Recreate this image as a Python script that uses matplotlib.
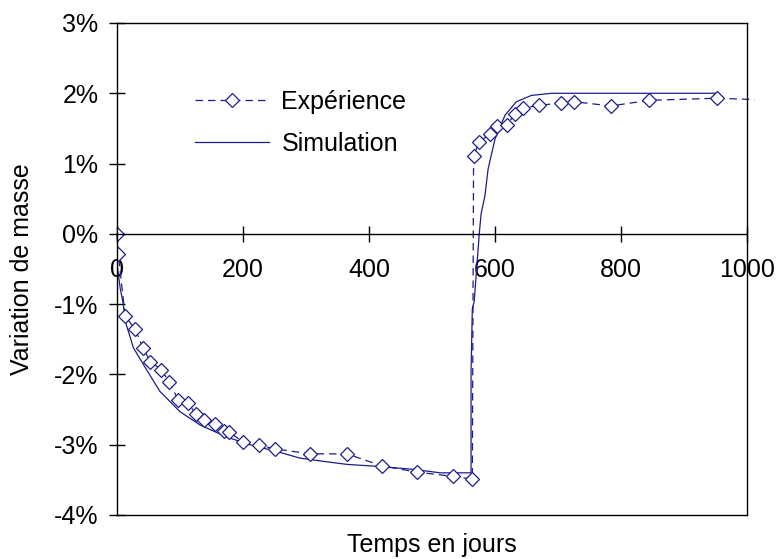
# -*- coding: utf-8 -*-
"""Variation de masse : expérience vs simulation"""

import matplotlib
matplotlib.use("Agg")
from matplotlib import pyplot as plt

plt.rcParams['font.family'] = ['Liberation Sans', 'DejaVu Sans']

# experience (jours, %)
exp_t = [0, 2, 13, 29, 41, 53, 70, 83, 97, 112, 125, 138, 156, 170, 178, 200,
         226, 251, 307, 365, 420, 476, 533, 564, 566, 575, 592, 603, 619, 632,
         645, 670, 704, 726, 784, 845, 953, 1012]
exp_y = [0, -0.29, -1.17, -1.36, -1.62, -1.82, -1.93, -2.11, -2.36, -2.40,
         -2.56, -2.65, -2.70, -2.81, -2.82, -2.96, -3.01, -3.06, -3.13, -3.13,
         -3.30, -3.39, -3.45, -3.49, 1.11, 1.31, 1.42, 1.54, 1.55, 1.71,
         1.79, 1.83, 1.86, 1.88, 1.82, 1.90, 1.93, 1.91]

# simulation
sim_t = [0, 0, 5, 10, 13, 26, 42, 68, 100, 132, 174, 211, 259, 290, 322, 365,
         417, 470, 513, 562, 562, 564, 567, 575, 578, 584, 589, 600, 616, 634,
         658, 690, 950]
sim_y = [0, -0.43, -0.77, -1.0, -1.24, -1.62, -1.86, -2.24, -2.53, -2.72,
         -2.89, -3.0, -3.11, -3.19, -3.23, -3.28, -3.31, -3.35, -3.40, -3.40,
         -1.96, -1.07, -0.96, 0.0, 0.29, 0.54, 0.92, 1.35, 1.69, 1.88,
         1.97, 2.0, 2.0]

x_ticks = [0, 200, 400, 600, 800, 1000]
y_ticks = [-4, -3, -2, -1, 0, 1, 2, 3]
y_labels = ['-4%', '-3%', '-2%', '-1%', '0%', '1%', '2%', '3%']

color = '#1c1c8e'
fs = 18

fig = plt.figure(figsize=(7.77, 5.59), dpi=100)
ax = fig.add_axes([117 / 777, 1 - 515 / 559, 630 / 777, 492 / 559])

ax.plot(sim_t, sim_y, '-', color=color, lw=0.9, label='Simulation')
# ligne pointillee (va un peu au dela de 1000, comme l'original)
ax.plot(exp_t, exp_y, color=color, lw=0.9, ls=(0, (6, 4)), clip_on=False)
ax.plot(exp_t, exp_y, 'D', color=color, mfc='white', mec=color, ms=6.8,
        mew=0.9)
h_exp, = ax.plot([], [], color=color, lw=0.9, ls=(0, (6, 4)), marker='D',
                 mfc='white', mec=color, ms=6.8, mew=0.9)

ax.set_xlim(0, 1000)
ax.set_ylim(-4, 3)
ax.spines['bottom'].set_position(('data', 0))
for s in ['left', 'right', 'top', 'bottom']:
    ax.spines[s].set_linewidth(1.0)
ax.plot([0, 1], [0, 0], transform=ax.transAxes, color='black', lw=1.0,
        clip_on=False)

ax.set_xticks(x_ticks)
ax.set_xticklabels([str(v) for v in x_ticks])
ax.set_yticks(y_ticks)
ax.set_yticklabels(y_labels)
ax.tick_params(axis='both', direction='inout', length=11, width=1.0,
               labelsize=fs)
ax.tick_params(axis='x', pad=12)
ax.tick_params(axis='y', pad=8)

ax.set_xlabel('Temps en jours', fontsize=fs, va='center')
ax.xaxis.set_label_coords(0.5, -0.061)
ax.set_ylabel('Variation de masse', fontsize=fs, va='center')
ax.yaxis.set_label_coords(-0.151, 0.5)

ax.legend([h_exp, ax.lines[0]], ['Expérience', 'Simulation'], loc='upper left',
          bbox_to_anchor=(0.124, 0.864), frameon=False, fontsize=fs,
          handlelength=2.95, handletextpad=0.5, labelspacing=0.72,
          borderpad=0, borderaxespad=0)

fig.savefig('out.png', dpi=100)
